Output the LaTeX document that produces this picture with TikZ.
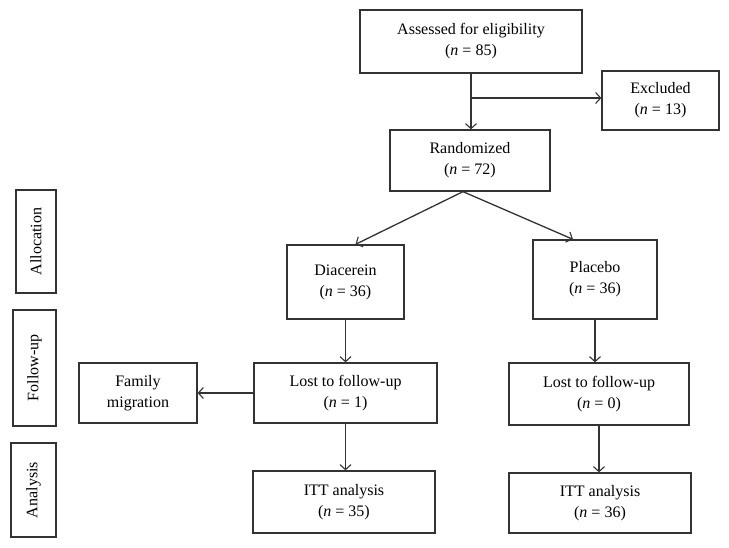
\documentclass[tikz,border=0pt]{standalone}
\usepackage{fontspec}
\setmainfont{Liberation Serif}
\usetikzlibrary{arrows.meta}
\begin{document}
\begin{tikzpicture}[x=1pt,y=-1pt,
  box/.style={draw=black!80, line width=1.3pt, align=center, inner sep=0pt,
    font=\fontsize{16}{21}\selectfont},
  side/.style={box, rotate=90},
  arr/.style={draw=black!80, line width=1.3pt, -{Straight Barb[length=5pt,width=11pt,line width=1.1pt]}}]
\useasboundingbox (0,0) rectangle (729,548);
\node[box, minimum width=222pt, minimum height=63pt] (assess) at (471,41.5) {Assessed for eligibility\\(\textit{n} = 85)};
\node[box, minimum width=117pt, minimum height=59pt] (excl) at (660.5,100.5) {Excluded\\(\textit{n} = 13)};
\node[box, minimum width=160pt, minimum height=61pt] (rand) at (470,160.5) {Randomized\\(\textit{n} = 72)};
\node[side, minimum width=103pt, minimum height=40pt] (alloc) at (36,241.5) {Allocation};
\node[side, minimum width=116pt, minimum height=43pt] (follow) at (34.5,368) {Follow-up};
\node[side, minimum width=94pt, minimum height=45pt] (anal) at (33.5,490) {Analysis};
\node[box, minimum width=118pt, minimum height=60pt] (family) at (138,393) {Family\\migration};
\node[box, minimum width=117pt, minimum height=74pt] (dia) at (345.5,282) {Diacerein\\(\textit{n} = 36)};
\node[box, minimum width=124pt, minimum height=79pt] (plac) at (595,279.5) {Placebo\\(\textit{n} = 36)};
\node[box, minimum width=183pt, minimum height=60pt] (lost1) at (345.5,393) {Lost to follow-up\\(\textit{n} = 1)};
\node[box, minimum width=180pt, minimum height=62pt] (lost2) at (599,394) {Lost to follow-up\\(\textit{n} = 0)};
\node[box, minimum width=182pt, minimum height=62pt] (itt1) at (344,502) {ITT analysis\\(\textit{n} = 35)};
\node[box, minimum width=182pt, minimum height=60pt] (itt2) at (600,503) {ITT analysis\\(\textit{n} = 36)};
\coordinate (br) at (471,98);
\draw[arr] (assess.south) -- (assess.south |- rand.north);
\draw[arr] (br) -- (br -| excl.west);
\draw[arr] ([xshift=-7pt]rand.south) -- ([xshift=10pt]dia.north);
\draw[arr] ([xshift=-7pt]rand.south) -- ([xshift=-22pt]plac.north);
\draw[arr] (dia.south) -- (dia.south |- lost1.north);
\draw[arr] (plac.south) -- (plac.south |- lost2.north);
\draw[arr] (lost1.south) -- (lost1.south |- itt1.north);
\draw[arr] (lost2.south) -- (lost2.south |- itt2.north);
\draw[arr] (lost1.west) -- (family.east);
\end{tikzpicture}
\end{document}
